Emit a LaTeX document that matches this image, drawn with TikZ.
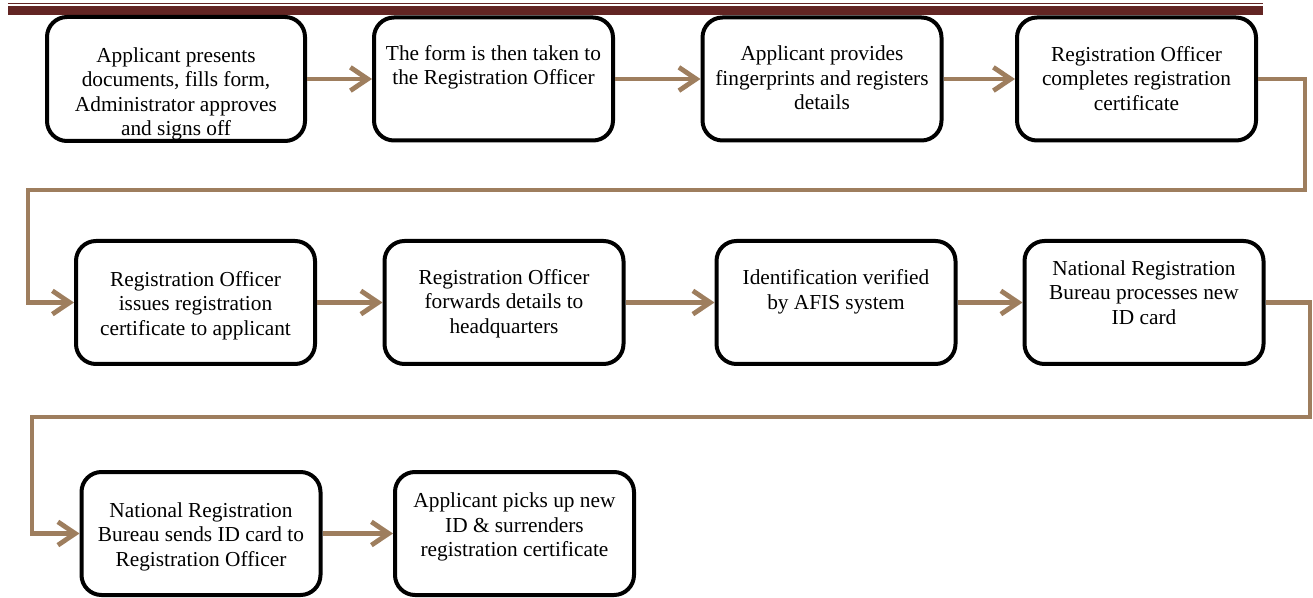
\documentclass[tikz,border=0pt]{standalone}
\usepackage{fontspec}
\setmainfont{Liberation Serif}
\usetikzlibrary{arrows.meta}
\definecolor{flowbrown}{RGB}{158,126,94}
\definecolor{barred}{RGB}{99,37,35}
\begin{document}
\begin{tikzpicture}[x=0.75pt,y=-0.75pt,
  stepbox/.style={draw=black, line width=3pt, rounded corners=15pt, fill=white,
    minimum width=179.25pt, minimum height=92.25pt, inner sep=0pt},
  widebox/.style={stepbox, minimum width=193.5pt, minimum height=93pt},
  steptext/.style={anchor=north, align=center, inner sep=0pt,
    font=\fontsize{16}{18.4}\selectfont},
  flow/.style={draw=flowbrown, line width=3.6pt, line join=miter,
    -{Straight Barb[length=13pt,width=17.5pt]}},
]
\useasboundingbox (0,0) rectangle (1313,598);
% top rule
\fill[barred] (8,2.6) rectangle (1263,4.2);
\fill[barred] (8,5.6) rectangle (1263,15);

% row 1
\node[widebox] (b1) at (176,79) {};
\node[stepbox] (b2) at (493.5,79) {};
\node[stepbox] (b3) at (822,79) {};
\node[stepbox] (b4) at (1136.5,79) {};
% row 2
\node[stepbox] (b5) at (195.5,302.5) {};
\node[stepbox] (b6) at (504,302.5) {};
\node[stepbox] (b7) at (836,302.5) {};
\node[stepbox] (b8) at (1144,302.5) {};
% row 3
\node[stepbox] (b9) at (201,533.5) {};
\node[stepbox] (b10) at (514.5,533.5) {};

% texts
\node[steptext] (t1) at ([yshift=-24pt]b1.north) {Applicant presents\\documents, fills form,\\Administrator approves\\and signs off};
\node[steptext] (t2) at ([yshift=-22pt]b2.north) {The form is then taken to\\the Registration Officer};
\node[steptext] (t3) at ([yshift=-22.5pt]b3.north) {Applicant provides\\fingerprints and registers\\details};
\node[steptext] (t4) at ([yshift=-23pt]b4.north) {Registration Officer\\completes registration\\certificate};
\node[steptext] (t5) at ([yshift=-24pt]b5.north) {Registration Officer\\issues registration\\certificate to applicant};
\node[steptext] (t6) at ([yshift=-22.5pt]b6.north) {Registration Officer\\forwards details to\\headquarters};
\node[steptext] (t7) at ([yshift=-23pt]b7.north) {Identification verified\\by AFIS system};
\node[steptext] (t8) at ([yshift=-16pt]b8.north) {National Registration\\Bureau processes new\\ID card};
\node[steptext] (t9) at ([yshift=-24pt]b9.north) {National Registration\\Bureau sends ID card to\\Registration Officer};
\node[steptext] (t10) at ([yshift=-17pt]b10.north) {Applicant picks up new\\ID \& surrenders\\registration certificate};

% turn points
\coordinate (k1) at (1305,190);
\coordinate (k2) at (28,190);
\coordinate (k3) at (1310,417);
\coordinate (k4) at (32,417);

% connectors
\draw[flow] (b1.east) -- (b2.west);
\draw[flow] (b2.east) -- (b3.west);
\draw[flow] (b3.east) -- (b4.west);
\draw[flow] (b4.east) -| (k1) -- (k2) |- (b5.west);
\draw[flow] (b5.east) -- (b6.west);
\draw[flow] (b6.east) -- (b7.west);
\draw[flow] (b7.east) -- (b8.west);
\draw[flow] (b8.east) -| (k3) -- (k4) |- (b9.west);
\draw[flow] (b9.east) -- (b10.west);
\end{tikzpicture}
\end{document}
